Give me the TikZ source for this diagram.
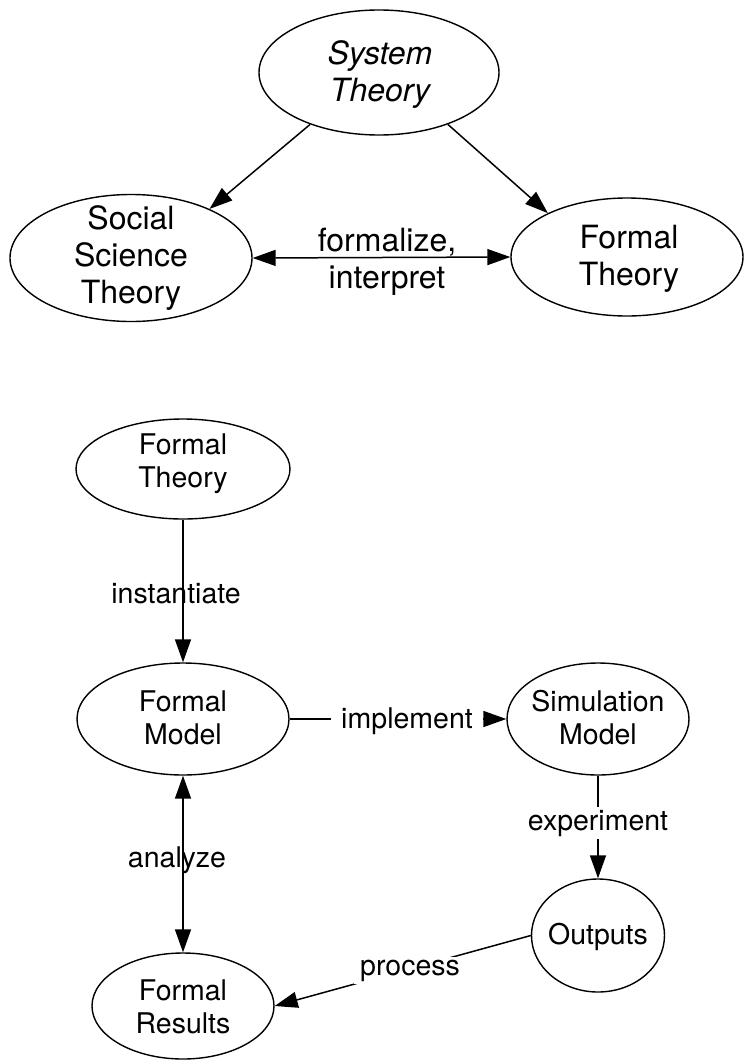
\documentclass[tikz,border=0pt]{standalone}
\usepackage{fontspec}
\setmainfont{TeX Gyre Heros}
\usetikzlibrary{arrows.meta,shapes.geometric}
\begin{document}
\begin{tikzpicture}[x=1pt,y=-1pt,
  ell/.style={draw, ellipse, line width=1.4pt, inner sep=0pt},
  bigtxt/.style={font=\fontsize{32}{37}\selectfont, align=center, inner sep=0pt},
  smtxt/.style={font=\fontsize{28.5}{33}\selectfont, align=center, inner sep=0pt},
  lab/.style={font=\fontsize{28.5}{33}\selectfont, inner sep=0pt, anchor=base},
  cut/.style={fill=white, inner xsep=4pt, inner ysep=3pt},
  arr/.style={line width=1.5pt, -{Triangle[length=23pt,width=16pt]}},
  darr/.style={line width=1.5pt, {Triangle[length=23pt,width=16pt]}-{Triangle[length=23pt,width=16pt]}}
]
\fill[white] (0,0) rectangle (745,1060);
\useasboundingbox (0,0) rectangle (745,1060);

% top diagram
\node[ell, minimum width=240pt, minimum height=125pt] (st) at (379,72.5) {};
\node[bigtxt, font=\fontsize{32}{37}\selectfont\itshape] (stt) at (380,75) {System\\Theory};
\node[ell, minimum width=242pt, minimum height=127pt] (ss) at (131,258) {};
\node[bigtxt] (sst) at (131,258.5) {Social\\Science\\Theory};
\node[ell, minimum width=232pt, minimum height=118pt] (ft) at (627,257) {};
\node[bigtxt] (ftt) at (629,259) {Formal\\Theory};

\draw[arr] (st.217) -- (ss.32);
\draw[arr] (st.-37) -- (ft.151);
\draw[darr] (ss.east) -- (ft.west);
\node[bigtxt] (fi) at (387,261.5) {formalize,\\interpret};

% bottom diagram
\node[ell, minimum width=214pt, minimum height=100pt] (ft2) at (183,469) {};
\node[smtxt] (ft2t) at (183,463.5) {Formal\\Theory};
\node[ell, minimum width=212pt, minimum height=112pt] (fm) at (183,719) {};
\node[smtxt] (fmt) at (183,718) {Formal\\Model};
\node[ell, minimum width=182pt, minimum height=112pt] (sm) at (598,719) {};
\node[smtxt] (smt) at (598,718) {Simulation\\Model};
\node[ell, minimum width=133pt, minimum height=113pt] (out) at (598,935.5) {};
\node[smtxt] (outt) at (598,937) {Outputs};
\node[ell, minimum width=182pt, minimum height=106pt] (fr) at (183,1006) {};
\node[smtxt] (frt) at (183,1007) {Formal\\Results};

\draw[arr] (ft2.south) -- (fm.north);
\node[lab] (inst) at (176,603) {instantiate};
\draw[arr] (fm.east) -- (sm.west);
\node[lab, cut, inner xsep=10pt] (impl) at (407,728) {implement};
\draw[arr] (sm.south) -- (out.north);
\node[lab, cut] (expe) at (598,830) {experiment};
\draw[darr] (fm.south) -- (fr.north);
\node[lab] (anal) at (177,867) {analyze};
\draw[arr] (out.west) -- (fr.east);
\node[lab, cut, inner xsep=6pt] (proc) at (410,975) {process};
\end{tikzpicture}
\end{document}
